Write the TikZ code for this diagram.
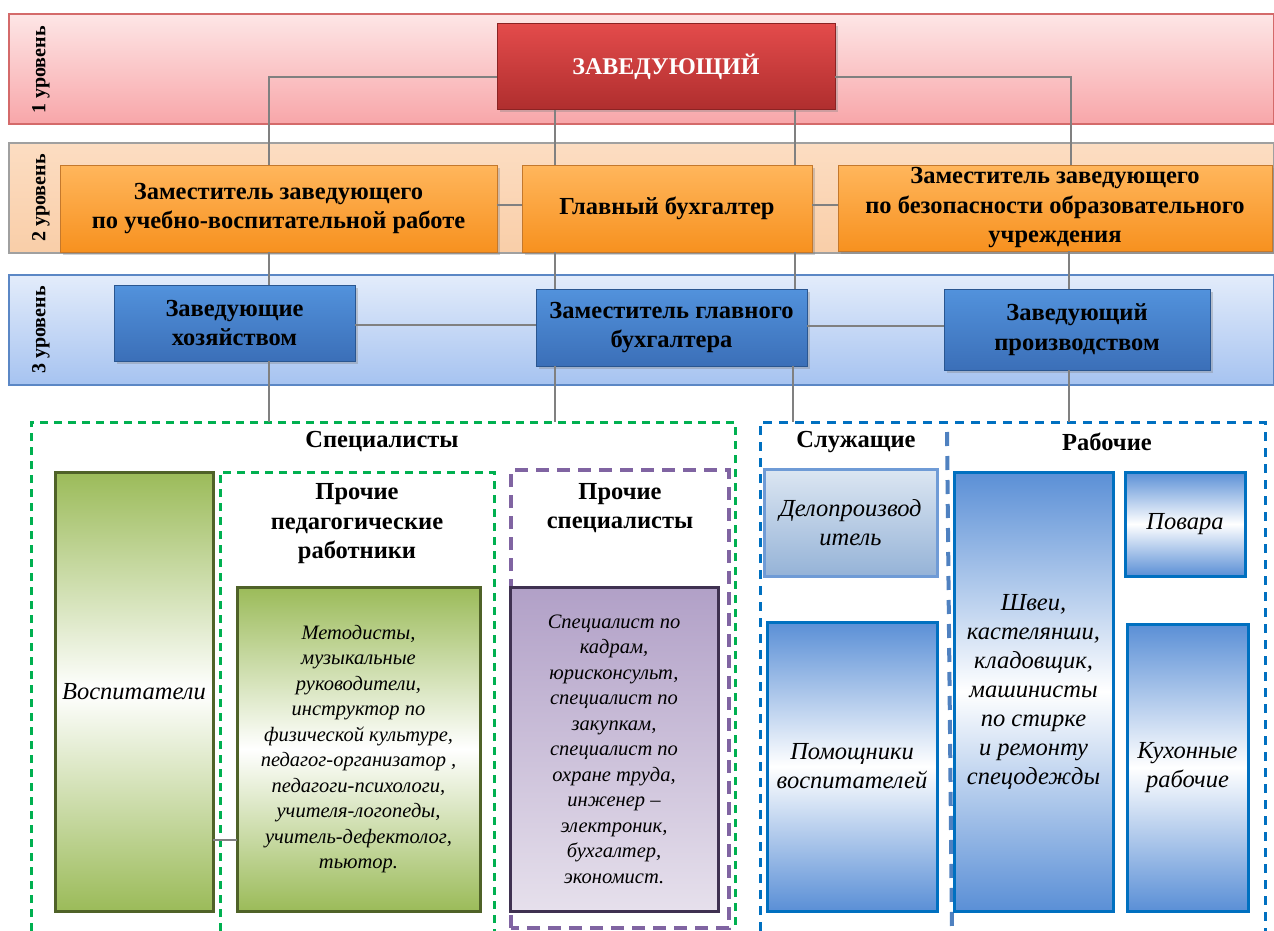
\documentclass[tikz,border=0pt]{standalone}
\usepackage{fontspec}
\setmainfont{Liberation Serif}
\usetikzlibrary{shadows,calc}
\definecolor{bandAedge}{HTML}{D46A6A}
\definecolor{bandAtop}{HTML}{FDE6E6}
\definecolor{bandAbot}{HTML}{F8A6A9}
\definecolor{bandBedge}{HTML}{A0A0A0}
\definecolor{bandBtop}{HTML}{FCDDC2}
\definecolor{bandBbot}{HTML}{F9CEA8}
\definecolor{bandCedge}{HTML}{5B87C5}
\definecolor{bandCtop}{HTML}{E3ECFB}
\definecolor{bandCbot}{HTML}{A6C3F0}
\definecolor{zavtop}{HTML}{E34B4B}
\definecolor{zavbot}{HTML}{AF2E2E}
\definecolor{zavedge}{HTML}{8B2323}
\definecolor{ortop}{HTML}{FFB65C}
\definecolor{orbot}{HTML}{F7911F}
\definecolor{oredge}{HTML}{C4782C}
\definecolor{bltop}{HTML}{5292DC}
\definecolor{blbot}{HTML}{3B6FB8}
\definecolor{bledge}{HTML}{2A5690}
\definecolor{conncol}{HTML}{808080}
\definecolor{gdashcol}{HTML}{00B050}
\definecolor{pdashcol}{HTML}{8064A2}
\definecolor{bdashcol}{HTML}{0070C0}
\definecolor{divcol}{HTML}{4F81C0}
\definecolor{grn}{HTML}{9BBB59}
\definecolor{grnedge}{HTML}{4F6228}
\definecolor{purtop}{HTML}{B1A0C7}
\definecolor{purbot}{HTML}{E6E0EC}
\definecolor{puredge}{HTML}{3F3151}
\definecolor{deltop}{HTML}{DCE6F2}
\definecolor{delbot}{HTML}{95B3D7}
\definecolor{deledge}{HTML}{6F9BD6}
\definecolor{bwb}{HTML}{5A8FD6}
\begin{document}
\begin{tikzpicture}[x=1pt,y=-1pt,
  every node/.style={inner sep=0pt,outer sep=0pt},
  band/.style={anchor=north west,minimum width=1265,minimum height=110,line width=1.2pt},
  lvl/.style={rotate=90,font=\bfseries\fontsize{20}{23}\selectfont},
  hdr/.style={font=\bfseries\fontsize{24.5}{29.5}\selectfont,align=center},
  shad/.style={drop shadow={opacity=0.35,shadow xshift=2.5pt,shadow yshift=-2.5pt}},
  orbox/.style={anchor=north west,top color=ortop,bottom color=orbot,draw=oredge,line width=1pt,shad,hdr},
  blbox/.style={anchor=north west,top color=bltop,bottom color=blbot,draw=bledge,line width=1pt,shad,hdr},
  conn/.style={draw=conncol,line width=2pt},
  grp/.style={anchor=north west},
  gdash/.style={draw=gdashcol,line width=3pt,dash pattern=on 8pt off 6pt},
  bdash/.style={draw=bdashcol,line width=3pt,dash pattern=on 9pt off 7pt},
  itl/.style={font=\itshape\fontsize{24.5}{29}\selectfont,align=center},
  itls/.style={font=\itshape\fontsize{20.5}{25.5}\selectfont,align=center},
  grnbox/.style={anchor=north west,top color=grn,bottom color=grn,middle color=white,draw=grnedge,line width=3pt},
  bwbbox/.style={anchor=north west,top color=bwb,bottom color=bwb,middle color=white,draw=bdashcol,line width=3pt},
]
\useasboundingbox (0,0) rectangle (1274,931);
\fill[white] (0,0) rectangle (1274,931);

% level bands
\node[band,top color=bandAtop,bottom color=bandAbot,draw=bandAedge] (band1) at (9,14) {};
\node[band,top color=bandBtop,bottom color=bandBbot,draw=bandBedge] (band2) at (9,143) {};
\node[band,top color=bandCtop,bottom color=bandCbot,draw=bandCedge] (band3) at (9,275) {};
\node[lvl] (l1) at (41,70) {1 уровень};
\node[lvl] (l2) at (41,198) {2 уровень};
\node[lvl] (l3) at (41,330) {3 уровень};

% level 1
\node[anchor=north west,minimum width=338,minimum height=86,top color=zavtop,bottom color=zavbot,
      draw=zavedge,line width=1pt,shad,font=\bfseries\fontsize{24}{28}\selectfont,text=white] (zav) at (497,24) {\raisebox{6pt}{ЗАВЕДУЮЩИЙ}};

% level 2
\node[orbox,minimum width=437,minimum height=87] (A) at (60,165) {Заместитель заведующего\\по учебно-воспитательной работе};
\node[orbox,minimum width=290,minimum height=87] (B) at (522,165) {Главный бухгалтер};
\node[orbox,minimum width=434,minimum height=86] (C) at (838,165) {Заместитель заведующего\\по безопасности образовательного\\учреждения};

% level 3
\node[blbox,minimum width=241,minimum height=76] (hoz) at (114,285) {Заведующие\\хозяйством};
\node[blbox,minimum width=271,minimum height=77] (zgb) at (536,289) {Заместитель главного\\бухгалтера};
\node[blbox,minimum width=266,minimum height=81] (zpr) at (944,289) {Заведующий\\производством};

% connectors level 1 -> 2
\draw[conn] ($(zav.west)+(0,10)$) -| (269,0 |- A.north);
\draw[conn] (555,0 |- zav.south) -- (555,0 |- B.north);
\draw[conn] (795,0 |- zav.south) -- (795,0 |- B.north);
\draw[conn] ($(zav.east)+(0,10)$) -| (1071,0 |- C.north);
\draw[conn] (A.east |- 0,205) -- (B.west |- 0,205);
\draw[conn] (B.east |- 0,205) -- (C.west |- 0,205);
% level 2 -> 3
\draw[conn] (269,0 |- A.south) -- (269,0 |- hoz.north);
\draw[conn] (555,0 |- B.south) -- (555,0 |- zgb.north);
\draw[conn] (795,0 |- B.south) -- (795,0 |- zgb.north);
\draw[conn] (1069,0 |- C.south) -- (1069,0 |- zpr.north);
\draw[conn] (hoz.east |- 0,325) -- (zgb.west |- 0,325);
\draw[conn] (zgb.east |- 0,326) -- (zpr.west |- 0,326);

% groups
\node[grp,minimum width=704,minimum height=509] (spec) at (31,422) {};
\node[grp,minimum width=274,minimum height=459] (ped) at (220,472) {};
\node[grp,minimum width=218,minimum height=458] (oth) at (511,470) {};
\node[grp,minimum width=505,minimum height=509] (emp) at (760,422) {};
\coordinate (divtop) at (947,432);
\coordinate (divbot) at (952,931);

\draw[gdash] (spec.south west) -- (spec.north west) -- (spec.north east) -- (spec.south east);
\draw[gdash] (ped.south west) -- (ped.north west) -- (ped.north east) -- (ped.south east);
\draw[draw=pdashcol,line width=4pt,dash pattern=on 13pt off 8pt] (oth.south west) rectangle (oth.north east);
\draw[bdash] (emp.south west) -- (emp.north west) -- (emp.north east) -- (emp.south east);
\draw[draw=divcol,line width=4pt,dash pattern=on 14pt off 10pt] (divtop) -- (divbot);

% level 3 -> groups
\draw[conn] (269,0 |- hoz.south) -- (269,0 |- spec.north);
\draw[conn] (555,0 |- zgb.south) -- (555,0 |- spec.north);
\draw[conn] (793,0 |- zgb.south) -- (793,0 |- emp.north);
\draw[conn] (1069,0 |- zpr.south) -- (1069,0 |- emp.north);

% group titles
\node[hdr] (tspec) at (382,442) {Специалисты};
\node[hdr] (tped) at (357,524) {Прочие\\педагогические\\работники};
\node[hdr] (toth) at (620,508) {Прочие\\специалисты};
\node[hdr] (tsl) at (856,442) {Служащие};
\node[hdr] (trab) at (1107,442) {Рабочие};

% specialists
\node[grnbox,minimum width=158,minimum height=439,itl] (vosp) at (55,472) {Воспитатели};
\node[grnbox,minimum width=243,minimum height=324,itls] (met) at (237,587) {Методисты,\\музыкальные\\руководители,\\инструктор по\\физической культуре,\\педагог-организатор ,\\педагоги-психологи,\\учителя-логопеды,\\учитель-дефектолог,\\тьютор.};
\draw[conn] (vosp.east |- 0,840) -- (met.west |- 0,840);
\node[anchor=north west,top color=purtop,bottom color=purbot,draw=puredge,line width=3pt,
      minimum width=208,minimum height=324,itls] (osp) at (510,587) {Специалист по\\кадрам,\\юрисконсульт,\\специалист по\\закупкам,\\специалист по\\охране труда,\\инженер --\\электроник,\\бухгалтер,\\экономист.};

% employees
\node[anchor=north west,top color=deltop,bottom color=delbot,draw=deledge,line width=3pt,
      minimum width=173,minimum height=107,itl] (delo) at (764,469) {Делопроизвод\\итель};
\node[bwbbox,minimum width=170,minimum height=289,itl] (pom) at (767,622) {Помощники\\воспитателей};
\node[bwbbox,minimum width=159,minimum height=439,itl] (shv) at (954,472) {Швеи,\\кастелянши,\\кладовщик,\\машинисты\\по стирке\\и ремонту\\спецодежды};
\node[bwbbox,minimum width=120,minimum height=104,itl] (pov) at (1125,472) {Повара};
\node[bwbbox,minimum width=121,minimum height=287,itl] (kuh) at (1127,624) {Кухонные\\рабочие};
\end{tikzpicture}
\end{document}
